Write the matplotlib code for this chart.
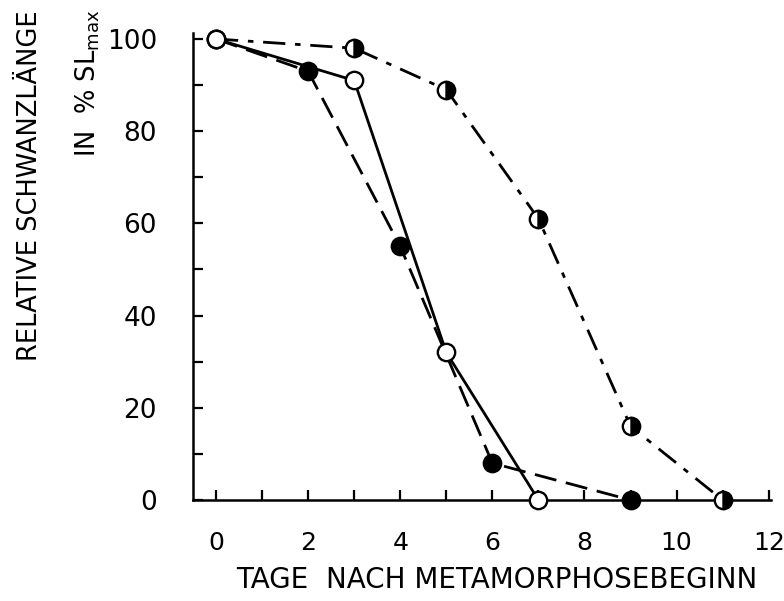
import numpy as np
import matplotlib.pyplot as plt

# tage nach metamorphosebeginn / relative schwanzlaenge (% SL max)
x_open = [0, 3, 5, 7]
y_open = [100, 91, 32, 0]

x_filled = [0, 2, 4, 6, 9]
y_filled = [100, 93, 55, 8, 0]

x_half = [0, 3, 5, 7, 9, 11]
y_half = [100, 98, 89, 61, 16, 0]

xticks = [0, 2, 4, 6, 8, 10, 12]
yticks = [0, 20, 40, 60, 80, 100]

plt.rcParams['font.family'] = ['DejaVu Sans']

fig = plt.figure(figsize=(7.84, 6.01), dpi=100)
ax = fig.add_axes([193/784, 1-500/601, 578/784, 467/601])

ms = 12.5
mew = 1.7
ax.plot(x_half, y_half, color='k', lw=2, dashes=(8, 3.5, 2, 3.5),
        marker='o', ms=ms, mew=mew, mfc='k', mec='k', fillstyle='right',
        markerfacecoloralt='white', clip_on=False, zorder=3)
ax.plot(x_filled, y_filled, color='k', lw=2, dashes=(8, 3.5),
        marker='o', ms=ms, mew=mew, mfc='k', mec='k', clip_on=False, zorder=4)
ax.plot(x_open, y_open, color='k', lw=2, ls='-',
        marker='o', ms=ms, mew=mew, mfc='white', mec='k', clip_on=False, zorder=5)

ax.set_xlim(-0.5, 12.05)
ax.set_ylim(0, 101.3)
ax.spines['top'].set_visible(False)
ax.spines['right'].set_visible(False)
for s in ['left', 'bottom']:
    ax.spines[s].set_linewidth(1.8)

ax.set_xticks(np.arange(0, 13, 1), minor=True)
ax.set_yticks(np.arange(0, 101, 10), minor=True)
ax.set_xticks(xticks)
ax.set_yticks(yticks)
ax.tick_params(which='both', direction='in', length=7, width=1.6)
ax.tick_params(axis='x', which='major', pad=22, labelsize=18)
ax.tick_params(axis='y', which='major', pad=26, labelsize=19)

fig.text(30/784, 1-10/601, 'RELATIVE SCHWANZLÄNGE', rotation=90, ha='center', va='top', fontsize=18.5)
fig.text(88/784, 1-10/601, r'IN  % SL$_{\rm max}$', rotation=90, ha='center', va='top', fontsize=18.5)
fig.text(497/784, 1-580/601, 'TAGE  NACH METAMORPHOSEBEGINN', ha='center', va='center', fontsize=20)

fig.savefig('out.png', dpi=100)
